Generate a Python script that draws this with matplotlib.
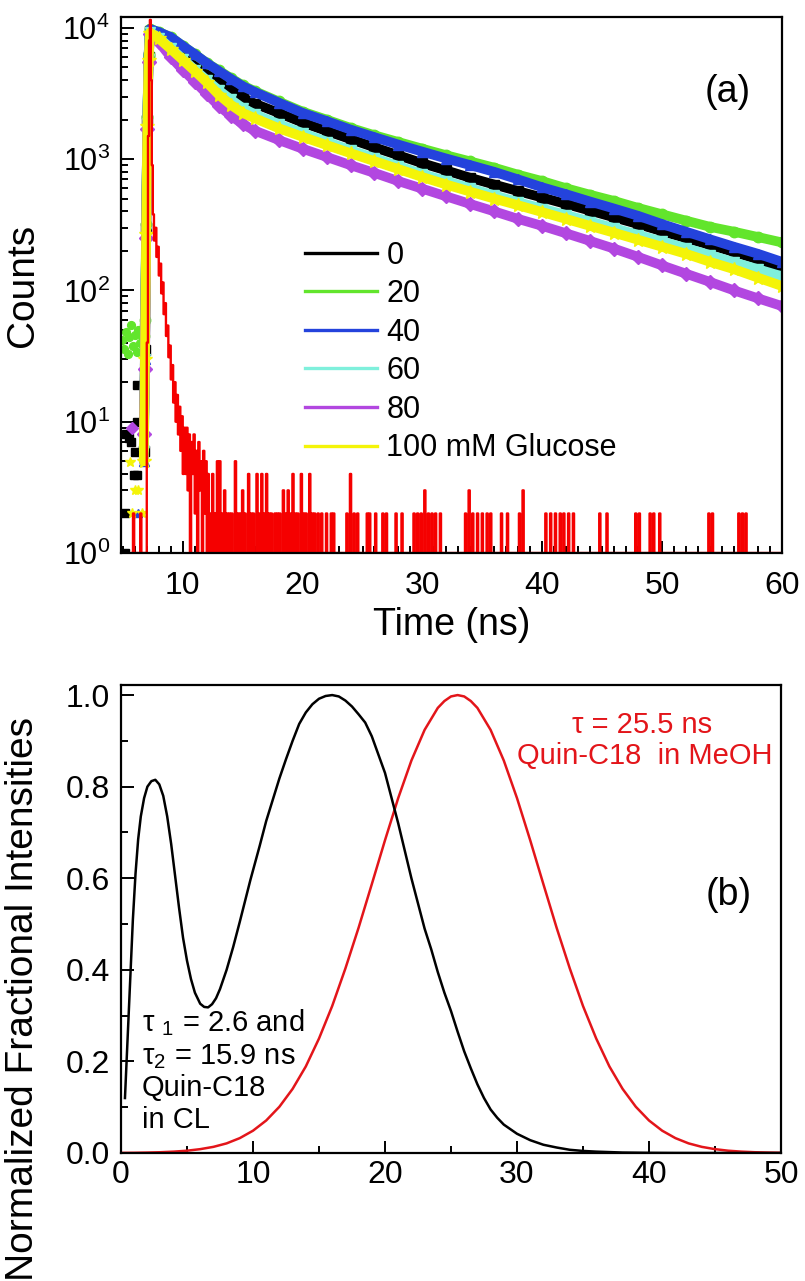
import numpy as np
import matplotlib
matplotlib.use("Agg")
import matplotlib.pyplot as plt
from matplotlib.lines import Line2D
from matplotlib.ticker import MultipleLocator, LogLocator, NullFormatter

plt.rcParams['font.family'] = ['Liberation Sans', 'DejaVu Sans']
plt.rcParams['mathtext.fontset'] = 'custom'
plt.rcParams['mathtext.rm'] = 'Liberation Sans'
plt.rcParams['mathtext.it'] = 'Liberation Sans:italic'
plt.rcParams['mathtext.bf'] = 'Liberation Sans:bold'

# ---------------- panel (a) data ----------------
series_labels = ["0", "20", "40", "60", "80", "100 mM Glucose"]
series_colors = ["#000000", "#62e52c", "#2443dc", "#7ff0dc", "#b247e0", "#f4f408"]
series_markers = ["s", "o", "^", "v", "D", "*"]

decay_t = [6.75, 6.85, 6.95, 7.05, 7.15, 7.27, 8, 9, 10, 11, 12, 13, 14, 15, 16,
           18, 20, 22, 24, 26, 28, 30, 32, 34, 36, 38, 40, 42, 44, 46, 48, 50,
           52, 54, 56, 58, 60]
counts_0 = [6, 35, 300, 2000, 6000, 9500, 8900, 8000, 6800, 5800, 4850, 4000, 3400, 2950, 2650,
            2250, 1900, 1640, 1420, 1230, 1070, 930, 820, 720, 640, 570, 510, 455, 405, 360, 320, 282,
            250, 222, 196, 172, 150]
counts_20 = [45, 60, 320, 2100, 6200, 9800, 9300, 8500, 7300, 6300, 5400, 4750, 4150, 3650, 3300,
             2750, 2300, 2000, 1730, 1520, 1350, 1200, 1070, 960, 860, 760, 680, 600, 535, 480, 425, 380,
             340, 305, 280, 255, 232]
counts_40 = [5, 30, 300, 2000, 6200, 9800, 9300, 8500, 7300, 6300, 5400, 4700, 4100, 3600, 3250,
             2700, 2250, 1950, 1680, 1470, 1290, 1140, 1010, 900, 800, 700, 610, 540, 475, 420, 370, 320,
             280, 245, 215, 190, 165]
counts_60 = [6, 30, 280, 1900, 5800, 9300, 8400, 7000, 5800, 4800, 4000, 3350, 2850, 2450, 2200,
             1850, 1580, 1360, 1170, 1020, 885, 770, 680, 600, 530, 470, 420, 375, 335, 298, 265, 236,
             210, 186, 164, 145, 128]
counts_80 = [8, 25, 250, 1700, 5500, 9000, 7800, 6000, 4800, 3900, 3150, 2550, 2150, 1850, 1650,
             1400, 1200, 1040, 900, 785, 680, 595, 520, 455, 400, 350, 310, 272, 238, 208, 180, 155,
             134, 116, 100, 87, 76]
counts_100 = [5, 30, 270, 1800, 5700, 9200, 8300, 6900, 5700, 4700, 3850, 3100, 2600, 2250, 2050,
              1720, 1480, 1280, 1110, 965, 840, 730, 640, 565, 500, 445, 395, 350, 310, 275, 243, 215,
              190, 165, 145, 125, 108]

# scattered points recorded before the excitation pulse
pre_t_0 = [5.2, 5.2, 5.25, 5.5, 5.7, 5.9, 6.05, 6.15, 6.15, 6.2]
pre_c_0 = [1, 2, 8, 7.5, 7, 3.9, 5.9, 9.9, 19, 3.9]
pre_t_20 = [4.95, 5.1, 5.25, 5.4, 5.55, 5.7, 5.85, 6.0, 6.15, 6.3, 6.45, 6.6]
pre_c_20 = [42, 36, 48, 33, 44, 55, 38, 46, 34, 50, 40, 45]
pre_t_40 = [6.3]
pre_c_40 = [2]
pre_t_60 = [6.75]
pre_c_60 = [6]
pre_t_80 = [5.8]
pre_c_80 = [9]
pre_t_100 = [5.6, 5.8, 6.05, 6.3, 6.6]
pre_c_100 = [4.9, 2, 3, 3, 2]

# instrument response (red), 0.1 ns channels
irf_t = [5.8, 5.9, 6.0, 6.4, 6.5, 6.6, 6.95, 7.05, 7.15, 7.22, 7.3, 7.38, 7.46,
         7.55, 7.65, 7.75, 7.85, 7.95, 8.05, 8.15, 8.25, 8.35, 8.45, 8.55, 8.65, 8.75, 8.85,
         8.95, 9.05, 9.15, 9.25, 9.35, 9.45, 9.55, 9.65, 9.75, 9.85, 9.95, 10.05, 10.15,
         10.25, 10.35, 10.45, 10.55, 10.65, 10.75, 10.85, 10.95, 11.05, 11.15, 11.25, 11.35,
         11.45, 11.55, 11.65, 11.75, 11.85, 11.95, 12.05, 12.15]
irf_counts = [1, 2, 1, 1, 2, 1, 1, 40, 1500, 8000, 11500, 4000, 900,
              380, 240, 300, 180, 215, 130, 160, 95, 115, 66, 80, 45, 54, 31,
              38, 21, 27, 14, 20, 10, 16, 8, 13, 6, 11, 4, 9,
              4, 9, 3, 8, 1, 7, 4, 8, 2, 6, 1, 7,
              3, 5, 1, 6, 2, 5, 1, 4]
irf_floor = 1
irf_bin = 0.1
irf_noise_start, irf_noise_end = 12.2, 60.0
irf_spikes = [(12.3, 2), (12.5, 4), (12.7, 2), (12.9, 5), (13.1, 5), (13.3, 2), (13.5, 3),
              (13.7, 2), (13.9, 2), (14.1, 2), (14.4, 5), (14.6, 2), (14.8, 2), (15.0, 3),
              (15.2, 2), (15.5, 4), (15.7, 2), (15.9, 2), (16.2, 4), (16.4, 2), (16.6, 4),
              (16.8, 2), (17.0, 4), (17.2, 2), (17.4, 2), (17.7, 2), (17.9, 2), (18.1, 2),
              (18.4, 3), (18.6, 2), (18.8, 3), (19.0, 2), (19.2, 4), (19.4, 2), (19.6, 2),
              (19.9, 4), (20.1, 2), (20.3, 2), (20.6, 4), (20.8, 2), (21.0, 2), (21.3, 2),
              (21.6, 2), (22.0, 2), (22.4, 2), (22.6, 2), (23.7, 2), (24.0, 4), (24.3, 2),
              (24.6, 2), (25.4, 2), (25.6, 2), (26.1, 2), (26.7, 2), (27.0, 2), (27.8, 2),
              (28.3, 2), (29.3, 2), (29.6, 2), (29.9, 2), (30.2, 3), (30.5, 2), (30.8, 2),
              (31.1, 2), (31.5, 2), (33.6, 2), (33.9, 3), (34.2, 2), (34.6, 2), (35.0, 2),
              (35.4, 2), (35.7, 2), (36.6, 2), (37.1, 2), (38.1, 2), (38.4, 3), (40.3, 2),
              (40.7, 2), (41.1, 2), (41.5, 2), (41.8, 2), (42.2, 2), (42.6, 2), (44.8, 2),
              (45.4, 2), (47.8, 2), (48.1, 2), (49.0, 2), (49.3, 2), (49.8, 2), (53.9, 2),
              (54.2, 2), (56.4, 2), (56.7, 2), (57.0, 2)]

# ---------------- panel (b) data ----------------
dist_cl_t = [0.3, 0.5, 0.7, 0.9, 1.1, 1.3, 1.5, 1.75, 2.0, 2.3, 2.6, 2.9, 3.2, 3.5, 3.8, 4.1,
             4.4, 4.7, 5.0, 5.3, 5.6, 6.0, 6.3, 6.6, 6.9, 7.2, 7.5, 8.0, 8.5, 9.0, 9.8, 10.5,
             11.0, 12.0, 12.5, 13.0, 13.5, 14.0, 14.5, 15.0, 15.5, 16.0, 16.5, 17.0, 17.5,
             18.0, 18.5, 19.0, 19.5, 20.0, 20.5, 21.0, 21.5, 22.0, 22.5, 23.0, 23.5, 24.0,
             24.5, 25.0, 25.5, 26.0, 26.5, 27.0, 27.5, 28.0, 28.5, 29.0, 30.0, 31.0, 32.0,
             33.0, 34.0, 35.0, 36.0, 37.0, 38.0, 40.0, 42.0, 45.0, 50.0]
dist_cl = [0.12, 0.25, 0.38, 0.51, 0.61, 0.685, 0.735, 0.775, 0.80, 0.812, 0.815, 0.805, 0.78,
           0.735, 0.675, 0.605, 0.535, 0.47, 0.42, 0.38, 0.35, 0.326, 0.319, 0.318, 0.325,
           0.338, 0.358, 0.40, 0.45, 0.505, 0.596, 0.67, 0.725, 0.818, 0.86, 0.90, 0.937,
           0.962, 0.98, 0.992, 0.998, 1.0, 0.997, 0.988, 0.975, 0.958, 0.94, 0.91, 0.87, 0.83,
           0.775, 0.72, 0.66, 0.60, 0.545, 0.49, 0.445, 0.395, 0.35, 0.31, 0.265, 0.222,
           0.185, 0.15, 0.12, 0.095, 0.077, 0.062, 0.042, 0.028, 0.018, 0.012, 0.007, 0.0045,
           0.003, 0.002, 0.001, 0.0004, 0.0001, 0.0, 0.0]
dist_meoh_t = [0, 1, 2, 3, 4, 5, 6, 7, 8, 9, 10, 11, 12, 13, 14, 15, 16, 17, 18, 19, 20, 21,
               22, 23, 24, 24.5, 25, 25.5, 26, 26.5, 27, 28, 29, 30, 31, 32, 33, 34, 35, 36,
               37, 38, 39, 40, 41, 42, 43, 44, 45, 46, 47, 48, 49, 50]
dist_meoh = [0.0003, 0.0005, 0.001, 0.0017, 0.003, 0.005, 0.0084, 0.0134, 0.021, 0.0325,
             0.0487, 0.071, 0.101, 0.140, 0.189, 0.250, 0.321, 0.403, 0.492, 0.587, 0.683,
             0.775, 0.857, 0.924, 0.972, 0.987, 0.997, 1.0, 0.997, 0.987, 0.972, 0.924,
             0.857, 0.775, 0.683, 0.587, 0.492, 0.403, 0.321, 0.250, 0.189, 0.140, 0.101,
             0.071, 0.0487, 0.0325, 0.021, 0.0134, 0.0084, 0.005, 0.003, 0.0017, 0.001, 0.0005]

# ---------------- figure ----------------
W, H = 805, 1281
fig = plt.figure(figsize=(W / 100, H / 100), dpi=100)

def px_axes(l, t, r, b):
    return fig.add_axes([l / W, 1 - b / H, (r - l) / W, (b - t) / H])

ax1 = px_axes(121, 17, 782, 553)
ax2 = px_axes(121, 685, 781, 1153)

RED_A = "#f50000"
RED_B = "#e3151a"

# panel (a)
all_counts = [counts_0, counts_20, counts_40, counts_60, counts_80, counts_100]
all_pre_t = [pre_t_0, pre_t_20, pre_t_40, pre_t_60, pre_t_80, pre_t_100]
all_pre_c = [pre_c_0, pre_c_20, pre_c_40, pre_c_60, pre_c_80, pre_c_100]
for cnt, pt, pc, col, mk in zip(all_counts, all_pre_t, all_pre_c, series_colors, series_markers):
    ms = 10 if mk == "*" else 7.5
    ax1.plot(decay_t, cnt, color=col, lw=7, marker=mk, ms=ms, mec=col, mfc=col,
             solid_joinstyle="round", solid_capstyle="round", zorder=2)
    ax1.plot(pt, pc, ls="none", marker=mk, ms=ms * 0.75, mec=col, mfc=col, zorder=2)

noise_t = np.round(np.arange(irf_noise_start, irf_noise_end + irf_bin / 2, irf_bin), 2)
noise_c = np.full(noise_t.shape, float(irf_floor))
for st, sh in irf_spikes:
    noise_c[int(round((st - irf_noise_start) / irf_bin))] = sh
irf_all_t = np.concatenate([irf_t, noise_t])
irf_all_c = np.concatenate([irf_counts, noise_c])
ax1.plot(irf_all_t, irf_all_c, color=RED_A, lw=1.7, drawstyle="steps-mid", zorder=3)

ax1.set_yscale("log")
ax1.set_xlim(4.85, 60)
ax1.set_ylim(1, 12100)
ax1.xaxis.set_major_locator(MultipleLocator(10))
ax1.xaxis.set_minor_locator(MultipleLocator(1))
ax1.yaxis.set_major_locator(LogLocator(base=10, numticks=10))
ax1.yaxis.set_minor_locator(LogLocator(base=10, subs=np.arange(2, 10), numticks=20))
ax1.yaxis.set_minor_formatter(NullFormatter())
ax1.set_xlabel("Time (ns)", fontsize=27)
ax1.set_ylabel("Counts", fontsize=28)
ax1.yaxis.set_label_coords(-0.121, 0.5)
ax1.xaxis.set_label_coords(0.5, -0.10)
ax1.text(0.918, 0.86, "(a)", transform=ax1.transAxes, fontsize=27, ha="center", va="center")

handles = [Line2D([], [], color=c, lw=2.4) for c in series_colors]
leg = ax1.legend(handles, series_labels, loc="upper left", bbox_to_anchor=(0.279, 0.583),
                 frameon=False, fontsize=22, handlelength=2.35, handletextpad=0.3,
                 labelspacing=0.28, borderpad=0, borderaxespad=0)
leg.set_zorder(5)

# panel (b)
ax2.plot(dist_cl_t, dist_cl, color="black", lw=1.8, zorder=3)
ax2.plot(dist_meoh_t, dist_meoh, color=RED_B, lw=1.8, zorder=2)
ax2.set_xlim(0, 50)
ax2.set_ylim(0, 1.022)
ax2.xaxis.set_major_locator(MultipleLocator(10))
ax2.xaxis.set_minor_locator(MultipleLocator(5))
ax2.yaxis.set_major_locator(MultipleLocator(0.2))
ax2.yaxis.set_minor_locator(MultipleLocator(0.1))
ax2.yaxis.set_major_formatter(plt.FormatStrFormatter("%.1f"))
ax2.set_ylabel("Normalized Fractional Intensities", fontsize=28)
ax2.yaxis.set_label_coords(-0.121, 0.33)

ax2.text(0.789, 0.915, "τ = 25.5 ns", transform=ax2.transAxes, fontsize=21,
         color=RED_B, ha="center", va="center")
ax2.text(0.794, 0.848, "Quin-C18  in MeOH", transform=ax2.transAxes, fontsize=21,
         color=RED_B, ha="center", va="center")
ax2.text(0.92, 0.551, "(b)", transform=ax2.transAxes, fontsize=27, ha="center", va="center")
for yy, s in zip([0.278, 0.205, 0.139, 0.0705],
                 ["τ $_1$ = 2.6 and", "τ$_2$ = 15.9 ns", "Quin-C18", "in CL"]):
    ax2.text(0.032, yy, s, transform=ax2.transAxes, fontsize=21, ha="left", va="center")

for ax in (ax1, ax2):
    for sp in ax.spines.values():
        sp.set_linewidth(1.6)
        sp.set_zorder(4)
    ax.tick_params(which="both", direction="in", top=False, right=False, width=1.4)
    ax.tick_params(which="major", length=9, labelsize=23)
    ax.tick_params(which="minor", length=5)
    ax.tick_params(axis="y", which="major", pad=8)

ax1.tick_params(axis="x", which="major", pad=13)
ax2.tick_params(axis="x", which="major", pad=5)
ax1.tick_params(axis="y", labelsize=22)

fig.savefig("out.png", dpi=100)
